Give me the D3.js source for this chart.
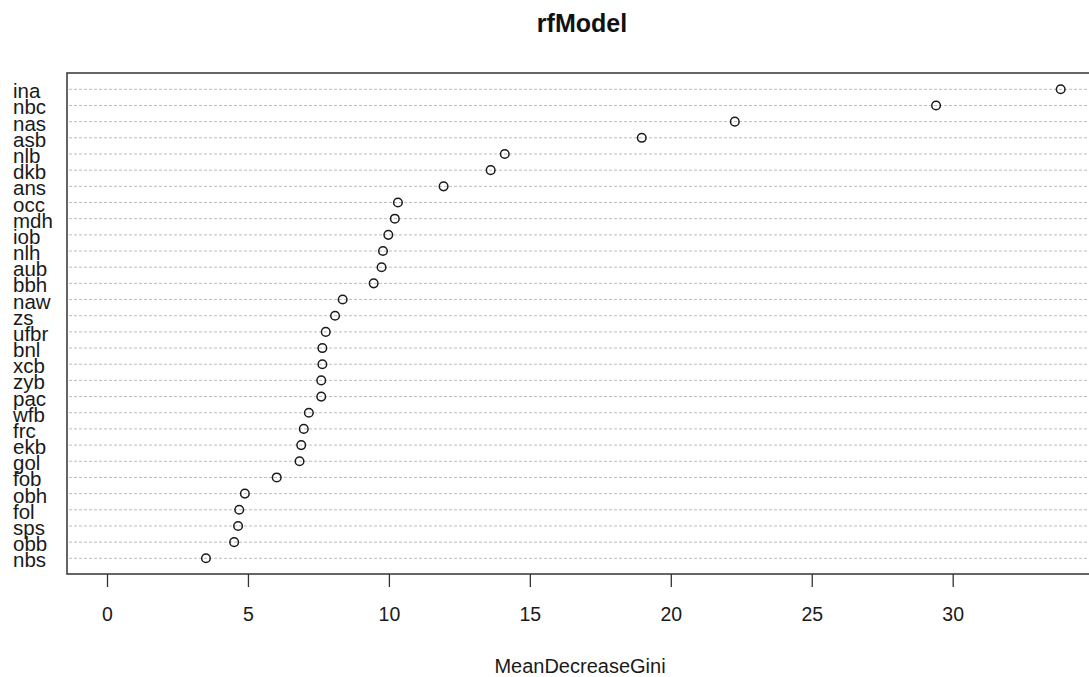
<!DOCTYPE html>
<html>
<head>
<meta charset="utf-8">
<script src="https://cdn.jsdelivr.net/npm/d3@7"></script>
<style>
  html, body { margin: 0; padding: 0; background: #fff; }
  svg { display: block; font-family: "Liberation Sans", Arial, sans-serif; }
</style>
</head>
<body>
<svg id="chart" width="1089" height="677"></svg>
<script>
// Variable importance (mean decrease in Gini) from the random forest
const variables = ["ina","nbc","nas","asb","nlb","dkb","ans","occ","mdh","iob",
  "nlh","aub","bbh","naw","zs","ufbr","bnl","xcb","zyb","pac",
  "wfb","frc","ekb","gol","fob","obh","fol","sps","obb","nbs"];
const meanDecreaseGini = [33.83,29.41,22.27,18.97,14.11,13.61,11.94,10.32,10.21,9.98,
  9.79,9.74,9.46,8.36,8.09,7.76,7.64,7.64,7.60,7.60,
  7.16,6.98,6.89,6.83,6.02,4.89,4.69,4.65,4.51,3.51];
const xTicks = [0,5,10,15,20,25,30];
const chartTitle = "rfModel";
const xTitle = "MeanDecreaseGini";

const svg = d3.select("#chart");
const box = { left: 67, top: 73, right: 1100, bottom: 574 };

const x = d3.scaleLinear().domain([0, 30]).range([107, 952.7]);
const y = d3.scalePoint().domain(variables).range([89.3, 558.3]);

// dotted guide line for each variable
svg.append("g")
  .selectAll("line")
  .data(variables)
  .join("line")
  .attr("x1", box.left + 2)
  .attr("x2", box.right)
  .attr("y1", d => y(d))
  .attr("y2", d => y(d))
  .attr("stroke", "#bdbdbd")
  .attr("stroke-width", 1)
  .attr("stroke-dasharray", "3,2");

// plot frame
svg.append("rect")
  .attr("x", box.left)
  .attr("y", box.top)
  .attr("width", box.right - box.left)
  .attr("height", box.bottom - box.top)
  .attr("fill", "none")
  .attr("stroke", "#333")
  .attr("stroke-width", 1.5);

// points
svg.append("g")
  .selectAll("circle")
  .data(variables.map((v, i) => ({ v, val: meanDecreaseGini[i] })))
  .join("circle")
  .attr("cx", d => x(d.val))
  .attr("cy", d => y(d.v))
  .attr("r", 4.3)
  .attr("fill", "none")
  .attr("stroke", "#1a1a1a")
  .attr("stroke-width", 1.5);

// variable labels, left-aligned in the margin
svg.append("g")
  .selectAll("text")
  .data(variables)
  .join("text")
  .attr("x", 13)
  .attr("y", d => y(d) + 9)
  .attr("font-size", 20.5)
  .attr("fill", "#1a1a1a")
  .text(d => d);

// x axis
const xAxis = d3.axisBottom(x).tickValues(xTicks).tickSize(13).tickPadding(20)
  .tickFormat(d3.format("d"));
const gx = svg.append("g")
  .attr("transform", `translate(0,${box.bottom})`)
  .call(xAxis);
gx.select(".domain").remove();
gx.selectAll(".tick line").attr("stroke", "#333").attr("stroke-width", 1.3);
gx.selectAll(".tick text")
  .attr("font-size", 19.5)
  .attr("fill", "#1a1a1a")
  .attr("font-family", "Liberation Sans, Arial, sans-serif");

// axis title
svg.append("text")
  .attr("x", 580)
  .attr("y", 673)
  .attr("text-anchor", "middle")
  .attr("font-size", 20)
  .attr("fill", "#1a1a1a")
  .text(xTitle);

// chart title
svg.append("text")
  .attr("x", 582)
  .attr("y", 32)
  .attr("text-anchor", "middle")
  .attr("font-size", 25)
  .attr("font-weight", "bold")
  .attr("fill", "#111")
  .text(chartTitle);
</script>
</body>
</html>
